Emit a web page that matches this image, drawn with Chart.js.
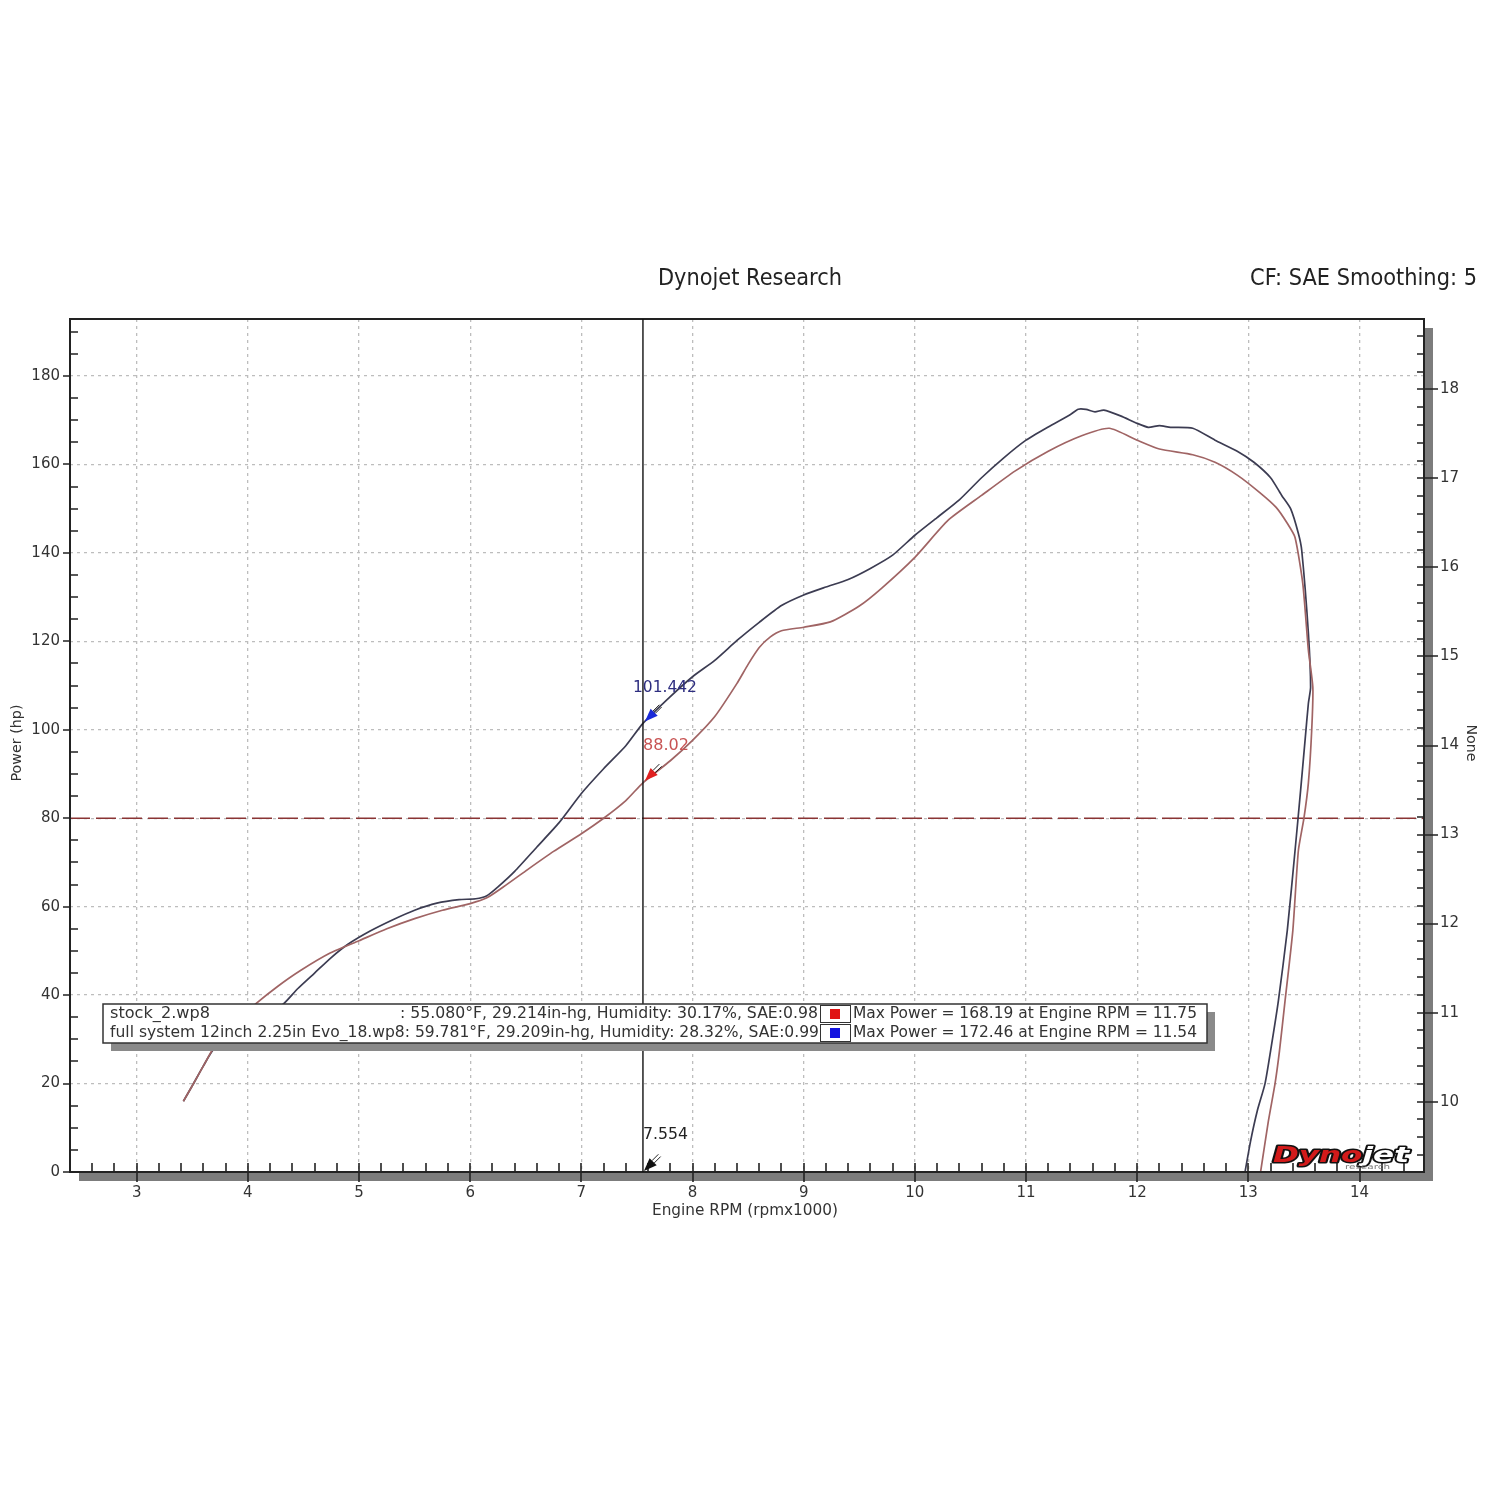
<!DOCTYPE html>
<html lang="en">
<head>
<meta charset="UTF-8">
<title>Dynojet Research</title>
<script src="https://cdn.jsdelivr.net/npm/chart.js@4.4.0/dist/chart.umd.min.js"></script>
<style>
  html, body { margin: 0; padding: 0; background: #fff; }
  #wrap { width: 1500px; height: 1500px; }
</style>
</head>
<body>
<div id="wrap"><canvas id="dyno" width="1500" height="1500"></canvas></div>
<script>
// ---- data ----
const stockRpm = [3.42, 3.5, 3.6, 3.69, 3.85, 4.07, 4.27, 4.47, 4.74, 5.0, 5.25, 5.5, 5.75, 6.0, 6.15, 6.3, 6.5, 6.75, 7.0, 7.2, 7.4, 7.554, 7.8, 8.0, 8.2, 8.4, 8.5, 8.6, 8.7, 8.8, 9.0, 9.24, 9.5, 9.7, 10.0, 10.3, 10.6, 10.9, 11.2, 11.5, 11.75, 12.0, 12.2, 12.5, 12.7, 12.9, 13.1, 13.25, 13.35, 13.42, 13.49, 13.54, 13.58, 13.57, 13.54, 13.5, 13.45, 13.4, 13.33, 13.28, 13.24, 13.18, 13.11];
const stockHp  = [16, 19.5, 24, 28, 33, 38, 42, 45.5, 49.5, 52.3, 55, 57.3, 59.2, 60.7, 62, 64.5, 68.1, 72.5, 76.5, 80, 84, 88.02, 93, 97.6, 103, 110.5, 114.8, 118.6, 121, 122.4, 123.2, 124.4, 128, 132, 139, 147.4, 153, 158.5, 163, 166.5, 168.19, 165.5, 163.5, 162.2, 160.5, 157.6, 153.7, 150.3, 146.7, 143.5, 133, 118, 109.6, 100, 88, 80, 72.7, 54.6, 38.7, 27.4, 20, 11.5, 0];

const fullRpm = [3.42, 3.5, 3.6, 3.7, 3.9, 4.1, 4.32, 4.45, 4.6, 4.75, 4.9, 5.1, 5.3, 5.5, 5.7, 5.9, 6.05, 6.15, 6.25, 6.4, 6.6, 6.8, 7.0, 7.2, 7.4, 7.554, 7.8, 8.0, 8.2, 8.4, 8.6, 8.8, 9.0, 9.2, 9.4, 9.6, 9.8, 10.0, 10.2, 10.4, 10.6, 10.8, 11.0, 11.2, 11.4, 11.47, 11.54, 11.62, 11.7, 11.85, 12.0, 12.1, 12.2, 12.3, 12.5, 12.7, 12.9, 13.05, 13.2, 13.3, 13.38, 13.45, 13.48, 13.54, 13.56, 13.54, 13.51, 13.47, 13.42, 13.35, 13.27, 13.2, 13.15, 13.08, 13.02, 12.97];
const fullHp  = [16, 19.5, 24, 28, 31, 34, 38, 41.5, 45, 48.5, 51.5, 54.5, 57, 59.2, 60.8, 61.6, 61.8, 62.5, 64.5, 68, 73.5, 79, 85.6, 91.2, 96.4, 101.442, 107.5, 112, 115.7, 120.2, 124.3, 128.1, 130.5, 132.3, 134, 136.5, 139.5, 144, 148, 152, 157, 161.5, 165.5, 168.5, 171.3, 172.5, 172.46, 171.9, 172.3, 171, 169.3, 168.4, 168.8, 168.4, 168.2, 165.5, 163, 160.5, 157, 153, 150, 144.4, 140.6, 121.8, 109.6, 106, 97.6, 86.3, 72.7, 54.6, 38.7, 27.4, 20, 13.8, 7, 0];

const rpmTicks = [3, 4, 5, 6, 7, 8, 9, 10, 11, 12, 13, 14];
const hpTicks = [0, 20, 40, 60, 80, 100, 120, 140, 160, 180];
const noneTicks = [10, 11, 12, 13, 14, 15, 16, 17, 18];

const refHp = 80;
const cursorRpm = 7.554;
const cursorFull = 101.442;
const cursorStock = 88.02;

const legendFiles = ["stock_2.wp8", "full system 12inch 2.25in Evo_18.wp8"];
const legendWeather = [": 55.080°F, 29.214in-hg, Humidity: 30.17%, SAE:0.98",
                       ": 59.781°F, 29.209in-hg, Humidity: 28.32%, SAE:0.99"];
const legendMax = ["Max Power = 168.19 at Engine RPM = 11.75",
                   "Max Power = 172.46 at Engine RPM = 11.54"];

const FONT = '"DejaVu Sans", "Liberation Sans", sans-serif';

function pairs(xs, ys) { return xs.map((x, i) => ({ x: x, y: ys[i] })); }

// draw text squeezed/stretched to a given width
function fitText(ctx, txt, x, y, w, size, color, align, weight) {
  ctx.save();
  ctx.font = (weight || '') + ' ' + size + 'px ' + FONT;
  ctx.fillStyle = color;
  ctx.textBaseline = 'middle';
  ctx.textAlign = align || 'left';
  const k = w / ctx.measureText(txt).width;
  ctx.translate(x, y);
  ctx.scale(k, 1);
  ctx.fillText(txt, 0, 0);
  ctx.restore();
}

function arrow(ctx, tx, ty, fill) {
  // small triangle pointing down-left, with a double shaft
  const dx = Math.SQRT1_2, dy = -Math.SQRT1_2;
  const L = 13, W = 5;
  const bx = tx + dx * L, by = ty + dy * L;
  ctx.save();
  ctx.fillStyle = fill;
  ctx.beginPath();
  ctx.moveTo(tx, ty);
  ctx.lineTo(bx - dy * W, by + dx * W);
  ctx.lineTo(bx + dy * W, by - dx * W);
  ctx.closePath();
  ctx.fill();
  ctx.strokeStyle = '#222';
  ctx.lineWidth = 1;
  for (const off of [-1.6, 1.6]) {
    ctx.beginPath();
    ctx.moveTo(bx - dy * off, by + dx * off);
    ctx.lineTo(bx + dx * 9 - dy * off, by + dy * 9 + dx * off);
    ctx.stroke();
  }
  ctx.restore();
}

const sheet = {
  id: 'sheet',
  beforeDraw(chart) {
    const ctx = chart.ctx;
    ctx.save();
    ctx.fillStyle = '#fff';
    ctx.fillRect(0, 0, chart.width, chart.height);
    ctx.restore();
  },
  afterDatasetsDraw(chart) {
    const ctx = chart.ctx;
    const a = chart.chartArea;
    const xs = chart.scales.x, ys = chart.scales.y, y2 = chart.scales.y2;
    ctx.save();

    // shadows round the plot
    ctx.fillStyle = '#7c7c7c';
    ctx.fillRect(a.right + 1, a.top + 9, 8, a.bottom - a.top);
    ctx.fillRect(a.left + 9, a.bottom + 1, a.right - a.left, 8);

    // frame
    ctx.strokeStyle = '#222';
    ctx.lineWidth = 2;
    ctx.strokeRect(a.left, a.top, a.right - a.left, a.bottom - a.top);

    // tick marks
    ctx.lineWidth = 1.6;
    ctx.beginPath();
    for (let v = 0; v <= 190; v += 5) {
      const p = Math.round(ys.getPixelForValue(v));
      if (v % 20 === 0) { ctx.moveTo(a.left - 7, p); ctx.lineTo(a.left, p); }
      else { ctx.moveTo(a.left, p); ctx.lineTo(a.left + 8, p); }
    }
    for (let i = 47; i <= 93; i++) {
      const v = i / 5, p = Math.round(y2.getPixelForValue(v));
      if (i % 5 === 0) { ctx.moveTo(a.right - 7, p); ctx.lineTo(a.right + 14, p); }
      else { ctx.moveTo(a.right - 7, p); ctx.lineTo(a.right, p); }
    }
    for (let i = 13; i <= 72; i++) {
      const v = i / 5, p = Math.round(xs.getPixelForValue(v));
      if (i % 5 === 0) { ctx.moveTo(p, a.bottom - 9); ctx.lineTo(p, a.bottom + 10); }
      else { ctx.moveTo(p, a.bottom - 9); ctx.lineTo(p, a.bottom); }
    }
    ctx.stroke();

    // cursor line
    const cx = xs.getPixelForValue(cursorRpm);
    ctx.strokeStyle = '#111';
    ctx.lineWidth = 1.4;
    ctx.beginPath();
    ctx.moveTo(cx, a.top);
    ctx.lineTo(cx, a.bottom);
    ctx.stroke();

    // legend box
    const lx = 103, ly = 1004, lw = 1104, lh = 39;
    ctx.fillStyle = '#8a8a8a';
    ctx.fillRect(lx + 8, ly + 8, lw, lh);
    ctx.fillStyle = '#fff';
    ctx.fillRect(lx, ly, lw, lh);
    ctx.strokeStyle = '#333';
    ctx.lineWidth = 1.5;
    ctx.strokeRect(lx, ly, lw, lh);

    const rows = [1014, 1033];
    fitText(ctx, legendFiles[0], 110, rows[0], 100, 15, '#333');
    fitText(ctx, legendWeather[0], 818, rows[0], 418, 15, '#333', 'right');
    fitText(ctx, legendFiles[1] + legendWeather[1], 110, rows[1], 709, 15, '#333');
    const swatch = ['#e01414', '#1414e0'];
    for (let r = 0; r < 2; r++) {
      ctx.fillStyle = '#fff';
      ctx.fillRect(820, rows[r] - 8, 30, 17);
      ctx.strokeStyle = '#333';
      ctx.lineWidth = 1;
      ctx.strokeRect(820.5, rows[r] - 8.5, 30, 17);
      ctx.fillStyle = swatch[r];
      ctx.fillRect(830, rows[r] - 5, 10, 10);
      fitText(ctx, legendMax[r], 853, rows[r], 344, 15, '#333');
    }

    // cursor read-outs
    const pf = ys.getPixelForValue(cursorFull);
    const ps = ys.getPixelForValue(cursorStock);
    const p0 = ys.getPixelForValue(0);
    arrow(ctx, cx + 2, pf - 2, '#1a2ad8');
    arrow(ctx, cx + 2, ps - 2, '#e02020');
    arrow(ctx, cx + 1, p0 - 1, '#111');
    fitText(ctx, cursorFull.toFixed(3), cx - 10, pf - 36, 64, 16, '#2e2e80');
    fitText(ctx, cursorStock.toFixed(2), cx, ps - 37, 46, 16, '#c85454');
    fitText(ctx, cursorRpm.toFixed(3), cx, p0 - 37, 45, 16, '#222');

    // logo
    ctx.save();
    ctx.font = 'italic bold 21px ' + FONT;
    ctx.textBaseline = 'alphabetic';
    ctx.lineWidth = 3;
    ctx.lineJoin = 'round';
    ctx.strokeStyle = '#111';
    ctx.translate(1273, 1162);
    const wDyno = ctx.measureText('Dyno').width;
    const wJet = ctx.measureText('jet').width;
    ctx.scale(136 / (wDyno + wJet), 1);
    ctx.strokeText('Dyno', 0, 0);
    ctx.fillStyle = '#d21a1a';
    ctx.fillText('Dyno', 0, 0);
    ctx.strokeText('jet', wDyno, 0);
    ctx.fillStyle = '#fff';
    ctx.fillText('jet', wDyno, 0);
    ctx.restore();
    fitText(ctx, 'research', 1345, 1167, 45, 7, '#777');

    ctx.restore();
  },
  afterDraw(chart) {
    const ctx = chart.ctx;
    fitText(ctx, 'Dynojet Research', 658, 279, 184, 23, '#222');
    fitText(ctx, 'CF: SAE Smoothing: 5', 1477, 279, 227, 23, '#222', 'right');
    fitText(ctx, 'Engine RPM (rpmx1000)', 652, 1211, 186, 16, '#333');
    ctx.save();
    ctx.translate(17, 743);
    ctx.rotate(-Math.PI / 2);
    fitText(ctx, 'Power (hp)', 0, 0, 77, 14, '#333', 'center');
    ctx.restore();
    ctx.save();
    ctx.translate(1471, 743);
    ctx.rotate(Math.PI / 2);
    fitText(ctx, 'None', 0, 0, 37, 14, '#333', 'center');
    ctx.restore();
  }
};

const tickFont = { family: FONT, size: 15 };

new Chart(document.getElementById('dyno'), {
  type: 'line',
  plugins: [sheet],
  data: {
    datasets: [
      {
        label: 'stock_2.wp8',
        data: pairs(stockRpm, stockHp),
        borderColor: '#a06464',
        borderWidth: 1.7,
        pointRadius: 0,
        tension: 0.2,
        fill: false
      },
      {
        label: 'full system 12inch 2.25in Evo_18.wp8',
        data: pairs(fullRpm, fullHp),
        borderColor: '#3c3c52',
        borderWidth: 1.7,
        pointRadius: 0,
        tension: 0.2,
        fill: false
      },
      {
        label: 'ref',
        data: [{ x: 2.4, y: refHp }, { x: 14.58, y: refHp }],
        borderColor: '#8a3434',
        borderWidth: 1.6,
        borderDash: [20, 6],
        pointRadius: 0,
        fill: false
      }
    ]
  },
  options: {
    responsive: false,
    animation: false,
    devicePixelRatio: 1,
    layout: { padding: { top: 319, left: 0, right: 0, bottom: 268 } },
    plugins: { legend: { display: false }, tooltip: { enabled: false }, title: { display: false } },
    scales: {
      x: {
        type: 'linear',
        min: 2.4,
        max: 14.58,
        afterBuildTicks: s => { s.ticks = rpmTicks.map(v => ({ value: v })); },
        afterFit: s => { s.height = 60; },
        ticks: { font: tickFont, color: '#333', padding: 12, maxRotation: 0, autoSkip: false },
        grid: { color: '#bdbdbd', lineWidth: 1.3, drawTicks: false },
        border: { display: false, dash: [3, 4] }
      },
      y: {
        position: 'left',
        min: 0,
        max: 192.9,
        afterBuildTicks: s => { s.ticks = hpTicks.map(v => ({ value: v })); },
        afterFit: s => { s.width = 70; },
        ticks: { font: tickFont, color: '#333', padding: 10, autoSkip: false },
        grid: { color: '#bdbdbd', lineWidth: 1.3, drawTicks: false },
        border: { display: false, dash: [3, 4] }
      },
      y2: {
        position: 'right',
        min: 9.21,
        max: 18.79,
        afterBuildTicks: s => { s.ticks = noneTicks.map(v => ({ value: v })); },
        afterFit: s => { s.width = 76; },
        ticks: { font: tickFont, color: '#333', padding: 16, autoSkip: false },
        grid: { display: false, drawTicks: false },
        border: { display: false }
      }
    }
  }
});
</script>
</body>
</html>
